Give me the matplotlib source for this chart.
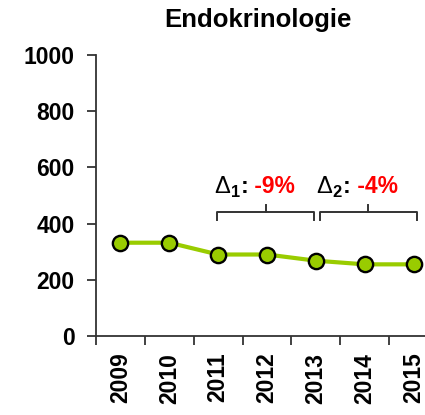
import matplotlib
matplotlib.use('Agg')
import matplotlib.pyplot as plt
from matplotlib.offsetbox import TextArea, HPacker, AnnotationBbox

plt.rcParams['font.family'] = ['Liberation Sans', 'DejaVu Sans']
plt.rcParams['mathtext.fontset'] = 'custom'
plt.rcParams['mathtext.rm'] = 'Liberation Sans'
plt.rcParams['mathtext.bf'] = 'Liberation Sans:bold'

title = 'Endokrinologie'
years = ['2009', '2010', '2011', '2012', '2013', '2014', '2015']
values = [332, 332, 290, 290, 268, 255, 255]
yticks = [0, 200, 400, 600, 800, 1000]
deltas = ['-9%', '-4%']
spans = [(2, 4), (4, 6)]

green = '#99cc00'
dark = '#333333'

fig = plt.figure(figsize=(4.25, 4.15), dpi=100)
ax = fig.add_axes([96/425, 79/415, 342/425, 281/415])

x = list(range(len(years)))
ax.plot(x, values, color=green, lw=3, marker='o', ms=11,
        mfc=green, mec='black', mew=1.7, zorder=3)

ax.set_xlim(-0.5, len(years) - 0.5)
ax.set_ylim(0, 1000)
ax.set_yticks(yticks)
ax.set_yticklabels([str(v) for v in yticks], fontsize=16.5, fontweight='bold')

# ticks on the category boundaries, labels in between
ax.set_xticks([i - 0.5 for i in range(len(years) + 1)])
ax.set_xticklabels([])
ax.set_xticks(x, minor=True)
ax.set_xticklabels(years, minor=True, rotation=90, fontsize=16.5, fontweight='bold')
ax.tick_params(axis='x', which='minor', length=0, pad=12)
ax.tick_params(axis='x', which='major', length=6.5, width=1.3, color=dark)
ax.tick_params(axis='y', length=6.5, width=1.3, color=dark, pad=9)

for s in ['top', 'right']:
    ax.spines[s].set_visible(False)
for s in ['left', 'bottom']:
    ax.spines[s].set_color(dark)
    ax.spines[s].set_linewidth(1.3)

# braces and labels
for k, ((a, b), d) in enumerate(zip(spans, deltas)):
    x0, x1 = a - 0.02 + (0.1 if k else 0), b - 0.03 + (0.1 if k else 0)
    ax.plot([x0, x0, x1, x1], [413, 441, 441, 413], color=dark, lw=1.4, clip_on=False)
    xm = (x0 + x1) / 2
    ax.plot([xm, xm], [441, 466], color=dark, lw=1.4, clip_on=False)
    parts = [TextArea(r'$\Delta_{\mathbf{%d}}$' % (k + 1), textprops=dict(fontsize=17, color='black')),
             TextArea(':', textprops=dict(fontsize=16.5, fontweight='bold', color='black')),
             TextArea(' ' + d, textprops=dict(fontsize=16.5, fontweight='bold', color='red'))]
    box = HPacker(children=parts, align='baseline', pad=0, sep=0)
    ab = AnnotationBbox(box, (xm - 0.23, 530), frameon=False, box_alignment=(0.5, 0.5),
                        annotation_clip=False)
    ax.add_artist(ab)

fig.text(258/425, 1 - 20/415, title, ha='center', va='center', fontsize=18.5, fontweight='bold')

fig.savefig('out.png', dpi=100)
